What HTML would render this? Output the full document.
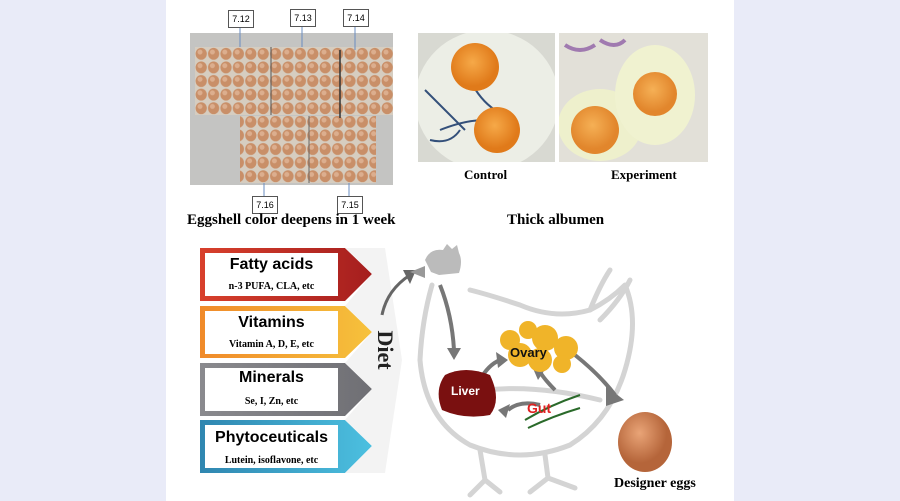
<!DOCTYPE html>
<html><head><meta charset="utf-8"><style>
html,body{margin:0;padding:0}
body{width:900px;height:501px;background:#e9ebf8;position:relative;overflow:hidden;font-family:"Liberation Serif",serif}
.panel{position:absolute;left:166px;top:0;width:568px;height:501px;background:#fff}
.t{position:absolute;font-weight:bold;white-space:nowrap}
.lbl{position:absolute;border:1px solid #555;background:#fff;font:9px "Liberation Sans",sans-serif;text-align:center;line-height:16px;width:24px;height:16px}
</style></head><body>
<div class="panel"></div>
<svg width="900" height="501" style="position:absolute;left:0;top:0">
<defs>
<pattern id="eg" x="195" y="47" width="12.4" height="13.6" patternUnits="userSpaceOnUse">
<rect width="12.4" height="13.6" fill="#d6cdc0"/><ellipse cx="6.2" cy="6.8" rx="5.6" ry="6" fill="#c98f68"/><ellipse cx="5" cy="5" rx="2.5" ry="2.5" fill="#dcae8e"/></pattern>
<radialGradient id="yolk" cx="45%" cy="40%"><stop offset="0" stop-color="#f6a948"/><stop offset="1" stop-color="#e07a1a"/></radialGradient>
<radialGradient id="egg" cx="40%" cy="35%"><stop offset="0" stop-color="#e9a477"/><stop offset="1" stop-color="#b5653a"/></radialGradient>
<linearGradient id="red" x1="0" x2="1"><stop offset="0" stop-color="#d8402c"/><stop offset="1" stop-color="#a51e1e"/></linearGradient>
<linearGradient id="org" x1="0" x2="1"><stop offset="0" stop-color="#f08a2a"/><stop offset="1" stop-color="#f6c23c"/></linearGradient>
<linearGradient id="gry" x1="0" x2="1"><stop offset="0" stop-color="#8a8a8e"/><stop offset="1" stop-color="#6f6f74"/></linearGradient>
<linearGradient id="blu" x1="0" x2="1"><stop offset="0" stop-color="#2f86b0"/><stop offset="1" stop-color="#4cc0e0"/></linearGradient>
<clipPath id="c1"><rect x="418" y="33" width="137" height="129"/></clipPath>
<clipPath id="c2"><rect x="559" y="33" width="149" height="129"/></clipPath>
</defs>
<!-- tray photo -->
<rect x="190" y="33" width="203" height="152" fill="#c4c4c2"/>
<rect x="195" y="47" width="198" height="68" fill="url(#eg)"/>
<rect x="240" y="116" width="136" height="67" fill="url(#eg)"/>
<line x1="271" y1="47" x2="271" y2="115" stroke="#555" stroke-width="1"/>
<line x1="340" y1="50" x2="340" y2="118" stroke="#333" stroke-width="1.5"/>
<line x1="309" y1="116" x2="309" y2="183" stroke="#666"/>
<g stroke="#6a8cc0" stroke-width="1"><line x1="240" y1="28" x2="240" y2="47"/><line x1="302" y1="27" x2="302" y2="47"/><line x1="355" y1="26" x2="355" y2="50"/><line x1="264" y1="183" x2="264" y2="196"/><line x1="349" y1="183" x2="349" y2="196"/></g>
<!-- bowls -->
<g clip-path="url(#c1)">
<rect x="418" y="33" width="137" height="129" fill="#d8d9d2"/>
<ellipse cx="487" cy="100" rx="72" ry="70" fill="#eceee6"/>
<path d="M425 90 q20 20 40 40 M440 130 q25 -10 45 -10 M470 80 q10 20 25 30 M430 140 q20 5 30 -10" stroke="#34507a" stroke-width="2" fill="none"/>
<circle cx="475" cy="67" r="24" fill="url(#yolk)"/>
<circle cx="497" cy="130" r="23" fill="url(#yolk)"/>
</g>
<g clip-path="url(#c2)">
<rect x="559" y="33" width="149" height="129" fill="#e2e0d8"/>
<ellipse cx="600" cy="125" rx="42" ry="36" fill="#eef0cc"/>
<ellipse cx="655" cy="95" rx="40" ry="50" fill="#f0f2d0"/>
<circle cx="595" cy="130" r="24" fill="url(#yolk)" opacity=".9"/>
<circle cx="655" cy="94" r="22" fill="url(#yolk)" opacity=".9"/>
<path d="M565 45 q15 10 30 0 M600 40 q15 10 25 0" stroke="#a07ab0" stroke-width="4" fill="none"/>
</g>
<!-- diet arrows -->
<polygon points="200,248 345,248 372,274 345,301 200,301" fill="url(#red)"/>
<polygon points="200,306 345,306 372,332 345,358 200,358" fill="url(#org)"/>
<polygon points="200,363 345,363 372,389 345,416 200,416" fill="url(#gry)"/>
<polygon points="200,420 345,420 372,446 345,473 200,473" fill="url(#blu)"/>
<polygon points="345,248 385,248 402,360 385,473 345,473 372,446 345,420 372,389 345,363 372,332 345,306 372,274" fill="#f3f3f3"/>
<rect x="205" y="253" width="133" height="43" fill="#fff"/>
<rect x="205" y="311" width="133" height="43" fill="#fff"/>
<rect x="205" y="368" width="133" height="43" fill="#fff"/>
<rect x="205" y="425" width="133" height="43" fill="#fff"/>
<path d="M382 315 q5 -25 28 -40" stroke="#666" stroke-width="3" fill="none"/>
<polygon points="403,270 416,270 410,284" fill="#666"/>
<!-- chicken -->
<g fill="none" stroke="#d4d4d4" stroke-width="5" stroke-linejoin="round" stroke-linecap="round">
<path d="M432 285 Q422 320 420 360 Q425 420 470 445 Q520 465 570 445 Q610 420 625 370 Q640 320 625 285 Q610 300 590 310 Q555 320 520 305 Q490 295 470 290"/>
<path d="M590 310 Q600 285 610 270 M600 320 Q620 300 630 280"/>
<path d="M480 450 L485 480 L470 495 M485 480 L500 492 M545 455 L548 478 L530 492 M548 478 L575 488"/>
<path d="M455 395 Q520 380 600 400"/>
</g>
<path d="M425 260 q5 -12 18 -10 l4 -6 l5 5 l5 -4 l2 8 q4 8 0 20 l-20 2 l-8 -3 z" fill="#bbb"/>
<polygon points="410,272 425,266 425,278" fill="#999"/>
<g stroke="#777" stroke-width="4" fill="none"><path d="M440 285 q12 30 14 65"/><path d="M480 380 q8 -15 20 -20"/><path d="M555 390 q-10 -10 -15 -18"/><path d="M540 405 q-20 -5 -32 5"/><path d="M575 355 q25 20 40 40"/></g>
<g fill="#777"><polygon points="447,348 461,348 454,360"/><polygon points="496,352 508,360 498,368"/><polygon points="532,366 546,368 538,380"/><polygon points="510,404 506,418 498,410"/><polygon points="606,386 624,400 606,406"/></g>
<path d="M445 375 q20 -10 45 0 q12 25 0 40 q-25 5 -48 -5 q-8 -20 3 -35z" fill="#7a1010"/>
<g fill="#f0b429"><circle cx="545" cy="338" r="13"/><circle cx="566" cy="348" r="12"/><circle cx="540" cy="360" r="12"/><circle cx="520" cy="355" r="12"/><circle cx="510" cy="340" r="10"/><circle cx="528" cy="330" r="9"/><circle cx="562" cy="364" r="9"/></g>
<path d="M525 420 q25 -15 55 -25 M528 428 q25 -12 52 -20" stroke="#2a6a2a" stroke-width="2" fill="none"/>
<ellipse cx="645" cy="442" rx="27" ry="30" fill="url(#egg)"/>
<text x="378" y="350" transform="rotate(90 378 350)" font-family="Liberation Serif,serif" font-weight="bold" font-size="22" text-anchor="middle" fill="#222">Diet</text>
</svg>
<div class="lbl" style="left:228px;top:10px">7.12</div>
<div class="lbl" style="left:290px;top:9px">7.13</div>
<div class="lbl" style="left:343px;top:9px">7.14</div>
<div class="lbl" style="left:252px;top:196px">7.16</div>
<div class="lbl" style="left:337px;top:196px">7.15</div>
<div class="t" style="left:464px;top:167px;font-size:13px">Control</div>
<div class="t" style="left:611px;top:167px;font-size:13px">Experiment</div>
<div class="t" style="left:187px;top:212px;font-size:15px">Eggshell color deepens in 1 week</div>
<div class="t" style="left:507px;top:212px;font-size:15px">Thick albumen</div>
<div class="t" style="left:205px;top:256px;width:133px;text-align:center;font:bold 16px 'Liberation Sans',sans-serif">Fatty acids</div>
<div class="t" style="left:205px;top:281px;width:133px;text-align:center;font-size:10px">n-3 PUFA, CLA, etc</div>
<div class="t" style="left:205px;top:314px;width:133px;text-align:center;font:bold 16px 'Liberation Sans',sans-serif">Vitamins</div>
<div class="t" style="left:205px;top:339px;width:133px;text-align:center;font-size:10px">Vitamin A, D, E, etc</div>
<div class="t" style="left:205px;top:369px;width:133px;text-align:center;font:bold 16px 'Liberation Sans',sans-serif">Minerals</div>
<div class="t" style="left:205px;top:396px;width:133px;text-align:center;font-size:10px">Se, I, Zn, etc</div>
<div class="t" style="left:205px;top:429px;width:133px;text-align:center;font:bold 16px 'Liberation Sans',sans-serif">Phytoceuticals</div>
<div class="t" style="left:205px;top:455px;width:133px;text-align:center;font-size:10px">Lutein, isoflavone, etc</div>
<div class="t" style="left:510px;top:345px;font:bold 13px 'Liberation Sans',sans-serif;color:#111">Ovary</div>
<div class="t" style="left:451px;top:384px;font:bold 12px 'Liberation Sans',sans-serif;color:#fff">Liver</div>
<div class="t" style="left:527px;top:400px;font:bold 14px 'Liberation Sans',sans-serif;color:#e02020">Gut</div>
<div class="t" style="left:614px;top:476px;font-size:14px">Designer eggs</div>
</body></html>
